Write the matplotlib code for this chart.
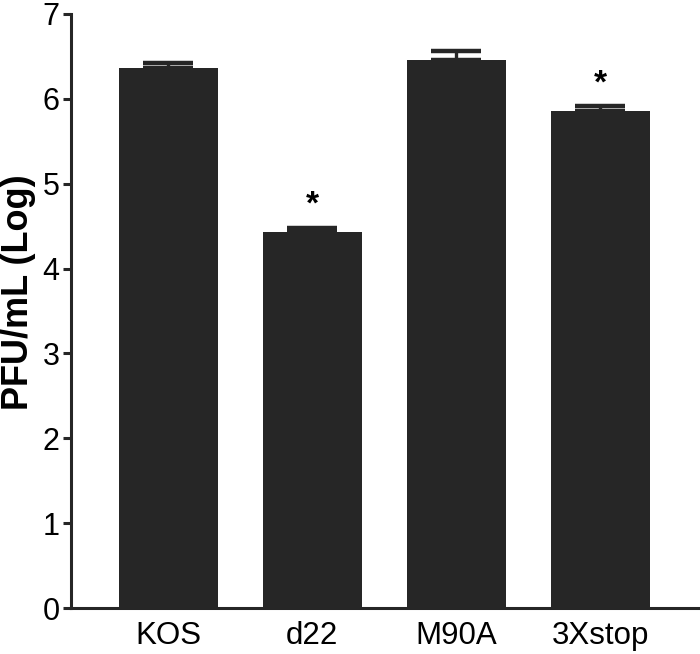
import matplotlib
matplotlib.use("Agg")
import matplotlib.pyplot as plt
import numpy as np

plt.rcParams['font.family'] = ['Liberation Sans', 'DejaVu Sans']

# Values
strains = ["KOS", "d22", "M90A", "3Xstop"]
pfu_log = [6.36, 4.43, 6.46, 5.86]
sem = [0.06, 0.05, 0.10, 0.05]
significant = [False, True, False, True]

fig = plt.figure(figsize=(7, 6.54), dpi=100)
ax = fig.add_axes([0.101, 0.0703, 0.896, 0.9083])

x = np.arange(len(strains))
ax.bar(x, pfu_log, width=0.69, color="#262626", zorder=2)
# upper error bars only
ax.errorbar(x, pfu_log, yerr=[np.zeros(len(sem)), sem], fmt="none", ecolor="#262626",
            elinewidth=2.4, capsize=18, capthick=3.2, zorder=1)

for xi, v, e, sig in zip(x, pfu_log, sem, significant):
    if sig:
        ax.text(xi, v + e + 0.27, "*", ha="center", va="center", fontsize=24,
                fontweight="bold", color="black")

ax.set_xlim(-0.678, 3.678)
ax.set_ylim(0, 7)
ax.set_yticks(range(0, 8))
ax.set_xticks(x)
ax.set_xticklabels(strains)
ax.set_ylabel("PFU/mL (Log)", fontsize=26, fontweight="bold")
ax.yaxis.set_label_coords(-0.056, 0.532)

for side in ["top", "right"]:
    ax.spines[side].set_visible(False)
for side in ["left", "bottom"]:
    ax.spines[side].set_linewidth(2.2)
    ax.spines[side].set_color("#262626")

ax.tick_params(axis="y", length=6, width=2.2, color="#262626", labelsize=22, pad=2)
ax.tick_params(axis="x", length=0, labelsize=22.5, pad=9)

fig.savefig("out.png", dpi=100)
